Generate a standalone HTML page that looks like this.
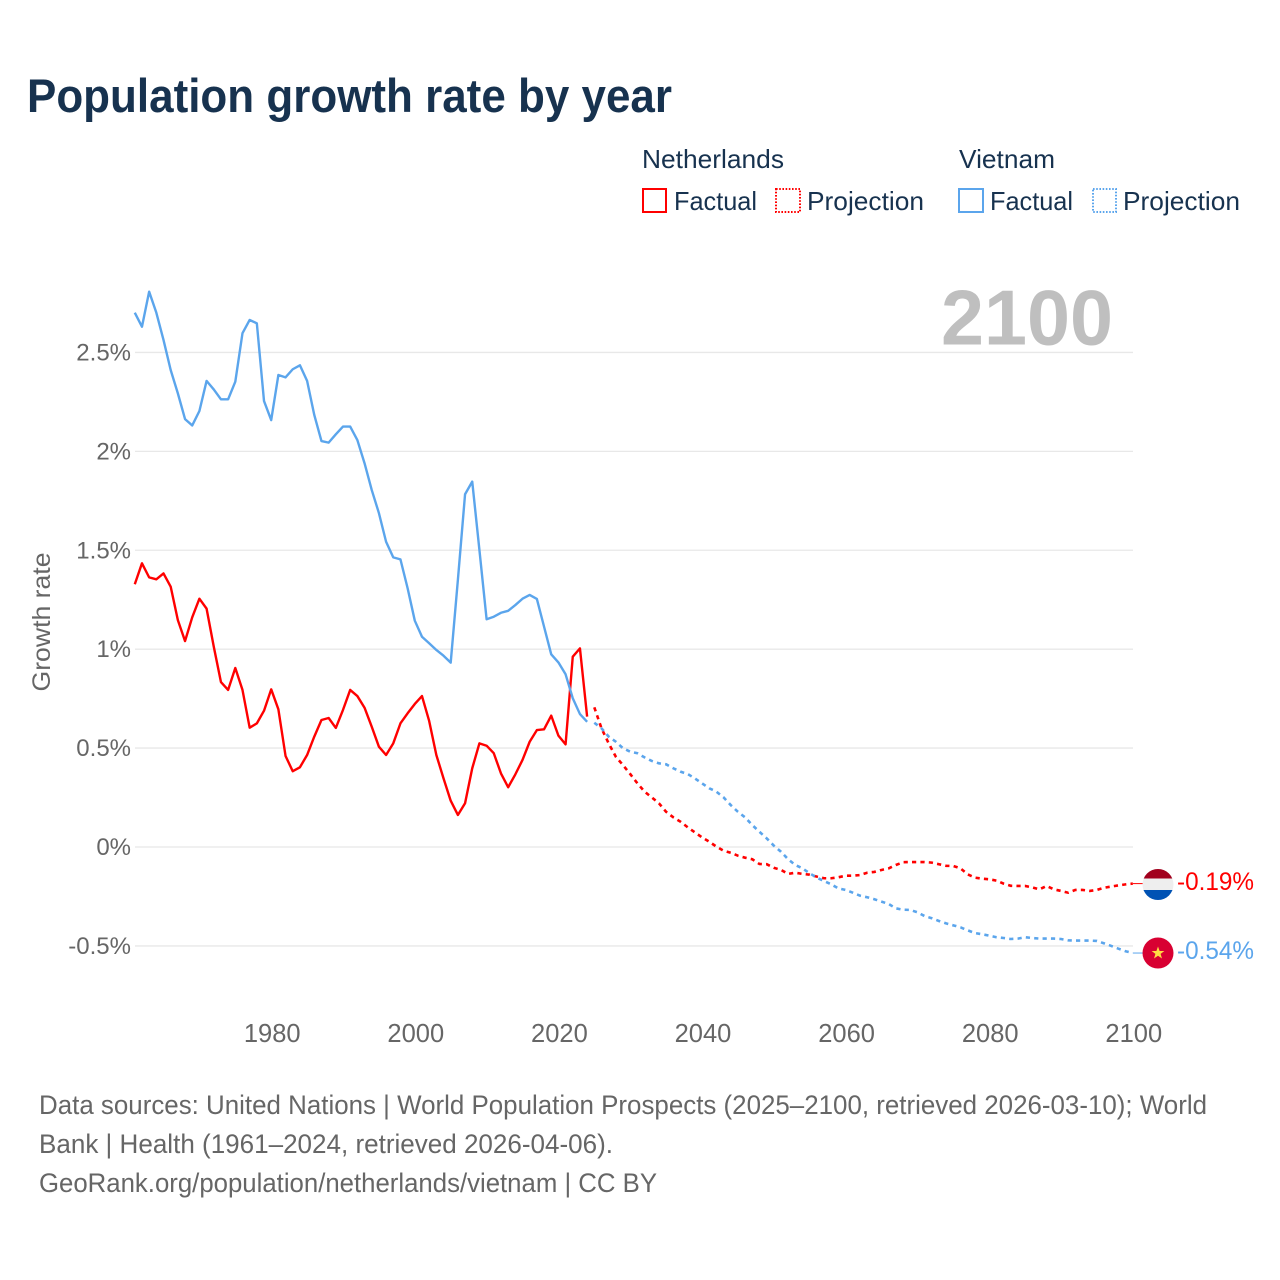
<!DOCTYPE html>
<html lang="en">
<head>
<meta charset="utf-8">
<title>Population growth rate by year</title>
<style>
  html, body { margin: 0; padding: 0; background: #fff; }
  svg { display: block; }
  text { font-family: "Liberation Sans", sans-serif; }
</style>
</head>
<body>
<svg id="chart" xmlns="http://www.w3.org/2000/svg" width="1280" height="1280" viewBox="0 0 1280 1280">
  <rect width="1280" height="1280" fill="#ffffff"/>
  <text x="27" y="112" font-size="47" font-weight="700" fill="#17324f" textLength="645" lengthAdjust="spacingAndGlyphs">Population growth rate by year</text>

  <g font-size="26" fill="#17324f">
    <text x="642" y="168" textLength="142" lengthAdjust="spacingAndGlyphs">Netherlands</text>
    <rect x="643" y="189" width="23" height="23" fill="none" stroke="#ff0000" stroke-width="2"/>
    <text x="674" y="210" textLength="83" lengthAdjust="spacingAndGlyphs">Factual</text>
    <rect x="776" y="189" width="24" height="23" fill="none" stroke="#ff0000" stroke-width="2" stroke-dasharray="1.6 1.6"/>
    <text x="807" y="210" textLength="117" lengthAdjust="spacingAndGlyphs">Projection</text>
    <text x="959" y="168" textLength="96" lengthAdjust="spacingAndGlyphs">Vietnam</text>
    <rect x="959" y="189" width="24" height="23" fill="none" stroke="#5ba5ec" stroke-width="2"/>
    <text x="990" y="210" textLength="83" lengthAdjust="spacingAndGlyphs">Factual</text>
    <rect x="1093" y="189" width="23" height="23" fill="none" stroke="#5ba5ec" stroke-width="2" stroke-dasharray="1.6 1.6"/>
    <text x="1123" y="210" textLength="117" lengthAdjust="spacingAndGlyphs">Projection</text>
  </g>

  <g id="grid"></g>
  <g id="yticks" font-size="24" fill="#666666" text-anchor="end"></g>
  <g id="xticks" font-size="25.5" fill="#666666" text-anchor="middle"></g>

  <text transform="translate(50 622) rotate(-90)" text-anchor="middle" font-size="25" fill="#666666" textLength="139" lengthAdjust="spacingAndGlyphs">Growth rate</text>
  <text x="941" y="344.5" font-size="78" font-weight="700" fill="#bfbfbf" textLength="172" lengthAdjust="spacingAndGlyphs">2100</text>

  <g id="series"></g>

  <defs>
    <clipPath id="nl-clip"><circle cx="1158" cy="884.5" r="15.5"/></clipPath>
    <clipPath id="vn-clip"><circle cx="1158" cy="953" r="15.5"/></clipPath>
  </defs>
  <g clip-path="url(#nl-clip)">
    <rect x="1142" y="868" width="32" height="34" fill="#eeeeee"/>
    <rect x="1142" y="868" width="32" height="10.5" fill="#a2001d"/>
    <rect x="1142" y="890" width="32" height="12" fill="#0052b4"/>
  </g>
  <g clip-path="url(#vn-clip)">
    <rect x="1142" y="937" width="32" height="32" fill="#d80032"/>
    <polygon fill="#ffda44" points="1158,946.5 1159.6,951 1164.4,951 1160.6,953.9 1162,958.5 1158,955.7 1154,958.5 1155.4,953.9 1151.6,951 1156.4,951"/>
  </g>
  <text id="nl-end" x="1177" y="890" font-size="25" fill="#ff0000" textLength="77" lengthAdjust="spacingAndGlyphs">-0.19%</text>
  <text id="vn-end" x="1177" y="959" font-size="25" fill="#5ba5ec" textLength="77" lengthAdjust="spacingAndGlyphs">-0.54%</text>

  <g font-size="26.5" fill="#666666">
    <text x="39" y="1114" textLength="1168" lengthAdjust="spacingAndGlyphs">Data sources: United Nations | World Population Prospects (2025–2100, retrieved 2026-03-10); World</text>
    <text x="39" y="1153" textLength="574" lengthAdjust="spacingAndGlyphs">Bank | Health (1961–2024, retrieved 2026-04-06).</text>
    <text x="39" y="1192" textLength="618" lengthAdjust="spacingAndGlyphs">GeoRank.org/population/netherlands/vietnam | CC BY</text>
  </g>
</svg>

<script>
const xTickYears = [1980, 2000, 2020, 2040, 2060, 2080, 2100];
const yTickValues = [-0.5, 0, 0.5, 1, 1.5, 2, 2.5];
const yTickLabels = ["-0.5%", "0%", "0.5%", "1%", "1.5%", "2%", "2.5%"];

const factualStartYear = 1961;
const projectionStartYear = 2025;

const netherlandsFactual = [
  1.328,1.434,1.363,1.353,1.383,1.316,1.147,1.041,1.161,1.255,
  1.205,1.013,0.834,0.794,0.905,0.794,0.603,0.625,0.689,0.797,
  0.696,0.460,0.383,0.403,0.465,0.558,0.642,0.652,0.602,0.693,
  0.794,0.763,0.704,0.608,0.507,0.465,0.524,0.625,0.676,0.723,
  0.763,0.637,0.465,0.347,0.234,0.162,0.221,0.398,0.524,0.512,
  0.474,0.372,0.302,0.367,0.440,0.532,0.591,0.595,0.664,0.563,
  0.519,0.962,1.004,0.659
];
const vietnamFactual = [
  2.701,2.630,2.807,2.701,2.563,2.411,2.293,2.163,2.131,2.204,
  2.356,2.313,2.263,2.263,2.352,2.597,2.664,2.647,2.254,2.158,
  2.386,2.374,2.415,2.435,2.356,2.184,2.052,2.044,2.086,2.125,
  2.125,2.057,1.940,1.805,1.688,1.543,1.464,1.454,1.308,1.144,
  1.063,1.030,0.996,0.967,0.932,1.350,1.783,1.847,1.501,1.151,
  1.164,1.184,1.194,1.223,1.255,1.274,1.254,1.114,0.974,0.933,
  0.873,0.752,0.672,0.633
];
const netherlandsProjection = [
  0.706,0.600,0.524,0.456,0.414,0.369,0.322,0.280,0.251,0.221,
  0.178,0.150,0.128,0.100,0.074,0.049,0.027,0.002,-0.019,-0.029,
  -0.044,-0.054,-0.062,-0.086,-0.087,-0.105,-0.116,-0.136,-0.130,-0.136,
  -0.140,-0.150,-0.158,-0.158,-0.153,-0.145,-0.145,-0.142,-0.130,-0.126,
  -0.116,-0.108,-0.091,-0.077,-0.076,-0.076,-0.076,-0.079,-0.087,-0.095,
  -0.096,-0.108,-0.138,-0.155,-0.160,-0.163,-0.170,-0.185,-0.196,-0.197,
  -0.197,-0.204,-0.214,-0.197,-0.214,-0.222,-0.231,-0.217,-0.217,-0.222,
  -0.217,-0.206,-0.200,-0.194,-0.189,-0.185
];
const vietnamProjection = [
  0.628,0.600,0.558,0.532,0.499,0.482,0.474,0.453,0.435,0.423,
  0.418,0.398,0.381,0.369,0.347,0.322,0.297,0.280,0.251,0.212,
  0.178,0.150,0.111,0.077,0.044,0.007,-0.024,-0.062,-0.091,-0.108,
  -0.133,-0.155,-0.172,-0.189,-0.209,-0.217,-0.231,-0.246,-0.254,-0.264,
  -0.276,-0.288,-0.310,-0.317,-0.318,-0.330,-0.349,-0.360,-0.374,-0.386,
  -0.396,-0.406,-0.421,-0.435,-0.441,-0.448,-0.456,-0.460,-0.465,-0.463,
  -0.456,-0.460,-0.463,-0.463,-0.463,-0.465,-0.472,-0.473,-0.473,-0.473,
  -0.475,-0.487,-0.500,-0.514,-0.527,-0.536
];

const SVG_NS = "http://www.w3.org/2000/svg";
const xScale = function (year) { return 127.6 + (year - 1960) * 7.18; };
const yScale = function (value) { return 847 - value * 197.83; };

const gridGroup = document.getElementById("grid");
const yTickGroup = document.getElementById("yticks");
const xTickGroup = document.getElementById("xticks");
const seriesGroup = document.getElementById("series");

yTickValues.forEach(function (value, i) {
  const line = document.createElementNS(SVG_NS, "line");
  
  
  line.setAttribute("x1", 135);
  line.setAttribute("x2", 1133);
  line.setAttribute("y1", yScale(value));
  line.setAttribute("y2", yScale(value));
  line.setAttribute("stroke", "#e8e8e8");
  line.setAttribute("stroke-width", "1.3");
  gridGroup.appendChild(line);

  const label = document.createElementNS(SVG_NS, "text");
  
  
  label.setAttribute("x", 131);
  label.setAttribute("y", yScale(value) + 8);
  label.textContent = yTickLabels[i];
  yTickGroup.appendChild(label);
});

xTickYears.forEach(function (year) {
  const label = document.createElementNS(SVG_NS, "text");
  
  
  label.setAttribute("x", xScale(year) + 1);
  label.setAttribute("y", 1042);
  label.textContent = String(year);
  xTickGroup.appendChild(label);
});

function pathFor(values, startYear) {
  return values.map(function (value, i) {
    return (i === 0 ? "M" : "L") + xScale(startYear + i).toFixed(2) + " " + yScale(value).toFixed(2);
  }).join(" ");
}

const nlFactualPath = document.createElementNS(SVG_NS, "path");


nlFactualPath.setAttribute("d", pathFor(netherlandsFactual, factualStartYear));
nlFactualPath.setAttribute("fill", "none");
nlFactualPath.setAttribute("stroke", "#ff0000");
nlFactualPath.setAttribute("stroke-width", "2.4");
nlFactualPath.setAttribute("stroke-linejoin", "round");
seriesGroup.appendChild(nlFactualPath);

const vnFactualPath = document.createElementNS(SVG_NS, "path");


vnFactualPath.setAttribute("d", pathFor(vietnamFactual, factualStartYear));
vnFactualPath.setAttribute("fill", "none");
vnFactualPath.setAttribute("stroke", "#5ba5ec");
vnFactualPath.setAttribute("stroke-width", "2.4");
vnFactualPath.setAttribute("stroke-linejoin", "round");
seriesGroup.appendChild(vnFactualPath);

const nlProjectionPath = document.createElementNS(SVG_NS, "path");


nlProjectionPath.setAttribute("d", pathFor(netherlandsProjection, projectionStartYear));
nlProjectionPath.setAttribute("fill", "none");
nlProjectionPath.setAttribute("stroke", "#ff0000");
nlProjectionPath.setAttribute("stroke-width", "2.6");
nlProjectionPath.setAttribute("stroke-dasharray", "4.2 4.2");
seriesGroup.appendChild(nlProjectionPath);

const vnProjectionPath = document.createElementNS(SVG_NS, "path");


vnProjectionPath.setAttribute("d", pathFor(vietnamProjection, projectionStartYear));
vnProjectionPath.setAttribute("fill", "none");
vnProjectionPath.setAttribute("stroke", "#5ba5ec");
vnProjectionPath.setAttribute("stroke-width", "2.6");
vnProjectionPath.setAttribute("stroke-dasharray", "4.2 4.2");
seriesGroup.appendChild(vnProjectionPath);

const nlConnector = document.createElementNS(SVG_NS, "line");


nlConnector.setAttribute("x1", xScale(2100));
nlConnector.setAttribute("x2", 1145);
nlConnector.setAttribute("y1", yScale(netherlandsProjection[netherlandsProjection.length - 1]));
nlConnector.setAttribute("y2", yScale(netherlandsProjection[netherlandsProjection.length - 1]));
nlConnector.setAttribute("stroke", "#ff0000");
nlConnector.setAttribute("stroke-width", "1");
seriesGroup.appendChild(nlConnector);

const vnConnector = document.createElementNS(SVG_NS, "line");


vnConnector.setAttribute("x1", xScale(2100));
vnConnector.setAttribute("x2", 1145);
vnConnector.setAttribute("y1", yScale(vietnamProjection[vietnamProjection.length - 1]));
vnConnector.setAttribute("y2", yScale(vietnamProjection[vietnamProjection.length - 1]));
vnConnector.setAttribute("stroke", "#5ba5ec");
vnConnector.setAttribute("stroke-width", "1");
seriesGroup.appendChild(vnConnector);
</script>
</body>
</html>
